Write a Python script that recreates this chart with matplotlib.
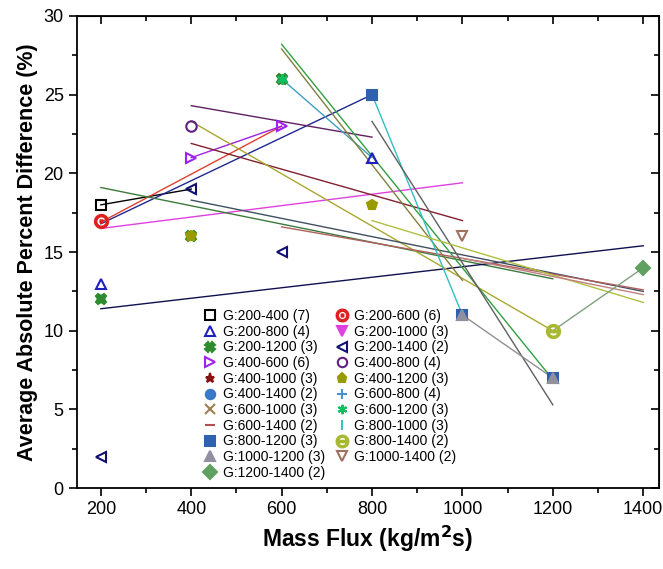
import matplotlib
matplotlib.use('Agg')
import matplotlib.pyplot as plt
from matplotlib.ticker import MultipleLocator

plt.rcParams['font.family'] = ['Liberation Sans', 'DejaVu Sans']

labels = ['G:200-400 (7)', 'G:200-600 (6)', 'G:200-800 (4)', 'G:200-1000 (3)',
          'G:200-1200 (3)', 'G:200-1400 (2)', 'G:400-600 (6)', 'G:400-800 (4)',
          'G:400-1000 (3)', 'G:400-1200 (3)', 'G:400-1400 (2)', 'G:600-800 (4)',
          'G:600-1000 (3)', 'G:600-1200 (3)', 'G:600-1400 (2)', 'G:800-1000 (3)',
          'G:800-1200 (3)', 'G:800-1400 (2)', 'G:1000-1200 (3)', 'G:1000-1400 (2)',
          'G:1200-1400 (2)']

# measured points (mass flux, AAPD %)
point_x = [[200], [200], [200, 800], [], [200, 400, 600], [200, 400, 600],
           [400, 600], [400], [], [400, 800], [], [800], [], [600], [],
           [], [800, 1000, 1200], [1200], [1000, 1200], [1000], [1400]]
point_y = [[18], [17], [13, 21], [], [12, 16, 26], [2, 19, 15],
           [21, 23], [23], [], [16, 18], [], [25], [], [26], [],
           [], [25, 11, 7], [10], [11, 7], [16], [14]]

# linear trend line end points for each group
fit_x = [[200, 400], [200, 600], [200, 800], [200, 1000], [200, 1200], [200, 1400],
         [400, 600], [400, 800], [400, 1000], [400, 1200], [400, 1400], [600, 800],
         [600, 1000], [600, 1200], [600, 1400], [800, 1000], [800, 1200], [800, 1400],
         [1000, 1200], [1000, 1400], [1200, 1400]]
fit_y = [[18.0, 19.0], [16.9, 23.0], [16.8, 25.0], [16.5, 19.4], [19.1, 13.3], [11.4, 15.4],
         [21.0, 23.0], [24.3, 22.3], [21.9, 17.0], [23.3, 10.0], [18.3, 12.5], [26.0, 21.0],
         [27.9, 13.2], [28.2, 6.9], [16.6, 12.6], [25.0, 11.0], [23.3, 5.3], [17.0, 11.8],
         [11.0, 7.0], [14.6, 12.3], [10.0, 14.0]]

colors = ['black', '#e02020', '#2020c0', '#e040e0', '#2e8b2e', '#101070',
          '#a020f0', '#602080', '#8b1010', '#999900', '#3a78c8', '#4a90d0',
          '#a08050', '#10c060', '#b05050', '#40c0c0', '#3060b0', '#a8b830',
          '#9090a0', '#a07060', '#60a060']
line_colors = ['black', '#e04030', '#202890', '#e040e0', '#3c7a3c', '#101050',
               '#a020e0', '#602060', '#802030', '#a8a830', '#405060', '#40a0c0',
               '#808040', '#30a040', '#b06060', '#30c0c0', '#606060', '#b0c040',
               '#909090', '#c08080', '#80a080']
markers = ['s', '$\\odot$', '^', 'v', 'X', '<', '>', 'o', '*', 'p', 'o', '+',
           'x', (6, 2, 0), '_', '|', 's', '$\\ominus$', '^', 'v', 'D']
open_marker = [True, False, True, False, False, True, True, True, False, False, False, False,
               False, False, False, False, False, False, False, True, False]

fig = plt.figure(figsize=(6.63, 5.69), dpi=100)
ax = fig.add_axes([0.116, 0.142, 0.878, 0.830])

for i in range(len(labels)):
    ax.plot(fit_x[i], fit_y[i], color=line_colors[i], lw=1.0, zorder=2)

handles = []
for i in range(len(labels)):
    mfc = 'none' if open_marker[i] else colors[i]
    ms = 9.5 if isinstance(markers[i], str) and markers[i].startswith('$') else 7.5
    h, = ax.plot(point_x[i], point_y[i], linestyle='none', marker=markers[i],
                 color=colors[i], mfc=mfc, mec=colors[i], ms=ms, mew=1.5, zorder=3,
                 label=labels[i])
    handles.append(h)

ax.set_xlim(147, 1435)
ax.set_ylim(0, 30)
ax.xaxis.set_major_locator(MultipleLocator(200))
ax.xaxis.set_minor_locator(MultipleLocator(100))
ax.yaxis.set_major_locator(MultipleLocator(5))
ax.yaxis.set_minor_locator(MultipleLocator(2.5))
ax.tick_params(which='both', direction='out', labelsize=13, width=1.2)
ax.tick_params(which='major', length=6)
ax.tick_params(which='minor', length=3.5)
for s in ax.spines.values():
    s.set_linewidth(1.3)

# mirrored inward ticks on top and right
top = ax.secondary_xaxis('top')
top.xaxis.set_major_locator(MultipleLocator(200))
top.xaxis.set_minor_locator(MultipleLocator(100))
top.tick_params(which='both', direction='in', labeltop=False, width=1.2)
top.tick_params(which='major', length=6)
top.tick_params(which='minor', length=3.5)
right = ax.secondary_yaxis('right')
right.yaxis.set_major_locator(MultipleLocator(5))
right.yaxis.set_minor_locator(MultipleLocator(2.5))
right.tick_params(which='both', direction='in', labelright=False, width=1.2)
right.tick_params(which='major', length=6)
right.tick_params(which='minor', length=3.5)

ax.set_xlabel('Mass Flux (kg/m$^\\mathbf{2}$s)', fontsize=16.5, fontweight='bold')
ax.set_ylabel('Average Absolute Percent Difference (%)', fontsize=15.5, fontweight='bold')

# legend laid out row by row like the original (two columns)
order = list(range(0, 21, 2)) + list(range(1, 21, 2))
ax.legend([handles[i] for i in order], [labels[i] for i in order],
          ncol=2, loc='upper left', bbox_to_anchor=(0.205, 0.394), frameon=False,
          fontsize=10, handlelength=1.0, handletextpad=0.4, columnspacing=0.7,
          labelspacing=0.12, borderpad=0, markerscale=0.9)

fig.savefig('out.png', dpi=100)
